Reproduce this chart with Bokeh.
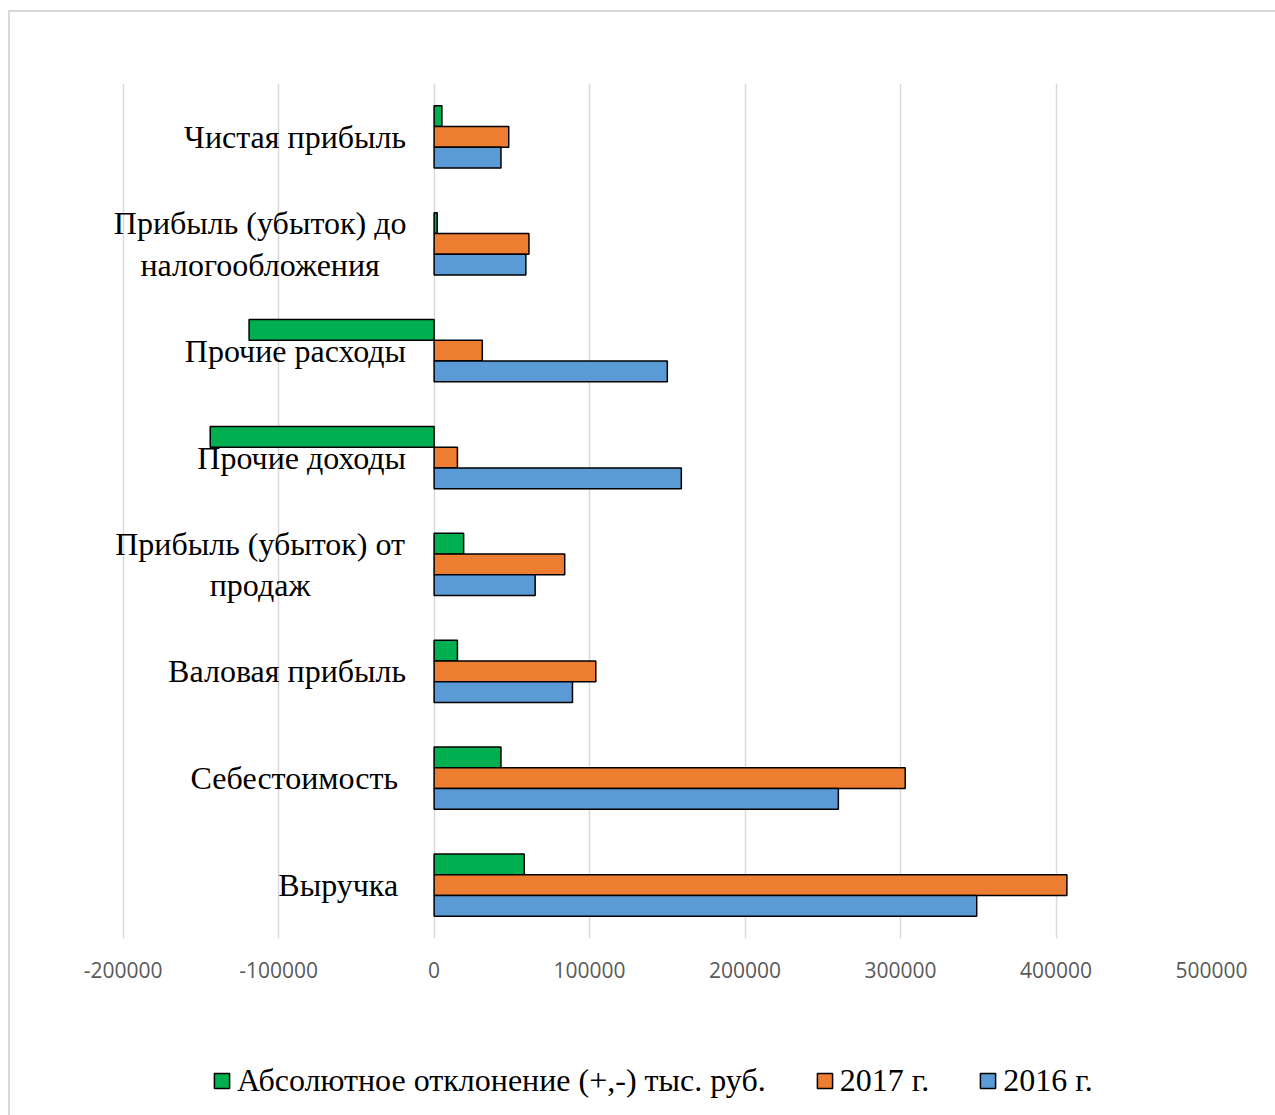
from bokeh.plotting import figure
from bokeh.layouts import column
from bokeh.models import ColumnDataSource, FixedTicker, Range1d, Legend, LegendItem
from bokeh.core.properties import value
from bokeh.embed import file_html
from bokeh.resources import INLINE

# ---- data (bottom to top) ----
categories = [
    "Выручка",
    "Себестоимость",
    "Валовая прибыль",
    "Прибыль (убыток) от\nпродаж",
    "Прочие доходы",
    "Прочие расходы",
    "Прибыль (убыток) до\nналогообложения",
    "Чистая прибыль",
]
v2016 = [349000, 260000, 89000, 65000, 159000, 150000, 59000, 43000]
v2017 = [407000, 303000, 104000, 84000, 15000, 31000, 61000, 48000]
deviation = [58000, 43000, 15000, 19000, -144000, -119000, 2000, 5000]
x_ticks = [-200000, -100000, 0, 100000, 200000, 300000, 400000, 500000]
series_names = ["Абсолютное отклонение (+,-) тыс. руб.", "2017 г.", "2016 г."]

# ---- styling ----
GREEN, ORANGE, BLUE = "#00b050", "#ed7d31", "#5b9bd5"
COLORS = [GREEN, ORANGE, BLUE]
BAR_H = 0.194
SERIF = "Liberation Serif"

n = len(categories)
centers = [i + 0.5 for i in range(n)]
src = ColumnDataSource(dict(
    y=centers,
    y_dev=[c + BAR_H for c in centers],
    y_17=centers,
    y_16=[c - BAR_H for c in centers],
    dev=deviation, v17=v2017, v16=v2016,
))

p = figure(
    frame_width=1135, frame_height=855,
    min_border_left=76, min_border_right=64, min_border_top=83, min_border_bottom=108,
    x_range=Range1d(-230000, 500000), y_range=Range1d(0, n),
    y_axis_location=None, toolbar_location=None, output_backend="svg",
    border_fill_color=None, background_fill_color=None,
)
p.outline_line_color = None

p.xaxis.ticker = FixedTicker(ticks=x_ticks)
p.xaxis.major_label_overrides = {t: str(t) for t in x_ticks}
p.xaxis.axis_line_color = None
p.xaxis.major_tick_line_color = None
p.xaxis.minor_tick_line_color = None
p.xaxis.major_label_standoff = 17
p.xaxis.major_label_text_font = "Open Sans"
p.xaxis.major_label_text_font_size = "21px"
p.xaxis.major_label_text_color = "#595959"

p.xgrid.ticker = FixedTicker(ticks=x_ticks)
p.xgrid.grid_line_color = "#d9d9d9"
p.xgrid.grid_line_width = 1.5
p.ygrid.grid_line_color = None

p.hbar(y="y_dev", left=0, right="dev", height=BAR_H, source=src,
       fill_color=GREEN, line_color="black", line_width=1.5)
p.hbar(y="y_17", left=0, right="v17", height=BAR_H, source=src,
       fill_color=ORANGE, line_color="black", line_width=1.5)
p.hbar(y="y_16", left=0, right="v16", height=BAR_H, source=src,
       fill_color=BLUE, line_color="black", line_width=1.5)

# category labels next to the zero line
single = [c for c in categories if "\n" not in c]
multi = [c for c in categories if "\n" in c]
shift = {"Себестоимость": -36, "Выручка": -36}
s_src = ColumnDataSource(dict(
    x=[0] * len(single),
    y=[centers[categories.index(c)] for c in single],
    t=single,
    off=[shift.get(c, -28) for c in single],
))
p.text(x="x", y="y", text="t", x_offset="off", source=s_src,
       text_align="right", text_baseline="middle",
       text_font=value(SERIF), text_font_size="32px", text_color="black")
m_src = ColumnDataSource(dict(
    x=[0] * len(multi),
    y=[centers[categories.index(c)] for c in multi],
    t=multi,
))
p.text(x="x", y="y", text="t", x_offset=-174, source=m_src,
       text_align="center", text_baseline="middle", text_line_height=1.15,
       text_font=value(SERIF), text_font_size="32px", text_color="black")

# ---- legend strip (separate figure so the legend is not clipped) ----
leg = figure(
    width=1275, height=69, min_border=0,
    x_range=Range1d(0, 1), y_range=Range1d(0, 1),
    x_axis_location=None, y_axis_location=None,
    toolbar_location=None, output_backend="svg",
    border_fill_color=None, background_fill_color=None,
)
leg.outline_line_color = None
leg.xgrid.visible = False
leg.ygrid.visible = False
items = []
for name, col in zip(series_names, COLORS):
    # proxy glyph placed outside the visible range; only its legend swatch shows
    r = leg.hbar(y=[-5], right=[0], left=0, height=0.1,
                 fill_color=col, line_color="black", line_width=1.5)
    items.append(LegendItem(label=name, renderers=[r]))
legend = Legend(
    items=items, orientation="horizontal", location=(136, 16),
    glyph_width=19, glyph_height=19, label_standoff=6, spacing=49,
    padding=0, margin=0, border_line_color=None, background_fill_alpha=0,
    label_text_font=SERIF, label_text_font_size="32px", label_text_color="black",
)
leg.add_layout(legend, "center")

layout = column(p, leg, spacing=0)
layout.styles = {
    "background": "linear-gradient(#d9d9d9,#d9d9d9) 8px 10px / 2px 100% no-repeat, "
                  "linear-gradient(#d9d9d9,#d9d9d9) 8px 10px / 100% 2px no-repeat, white"
}

open("out.html", "w").write(file_html(layout, INLINE))
